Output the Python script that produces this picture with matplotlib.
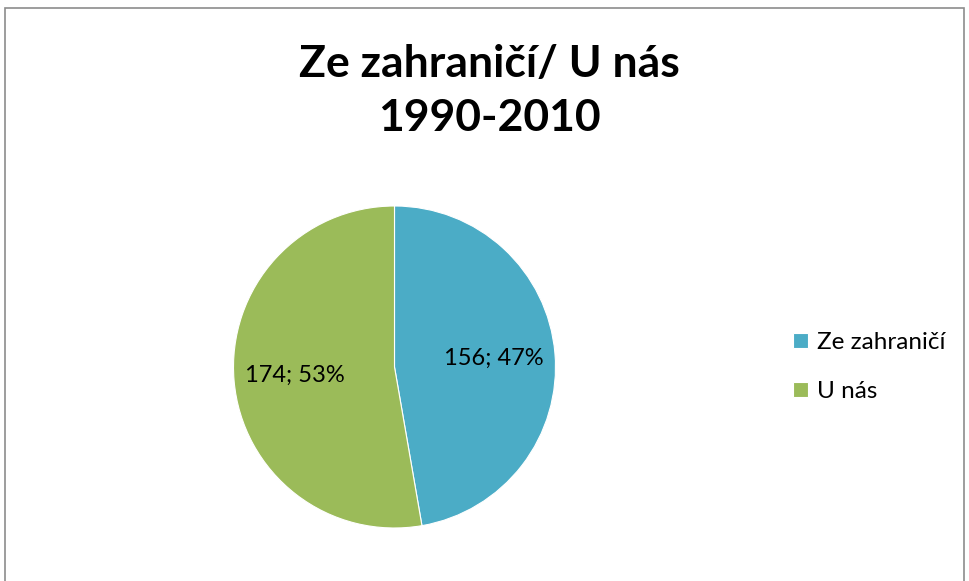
import matplotlib
matplotlib.use("Agg")
import matplotlib.pyplot as plt
from matplotlib.patches import Rectangle

categories = ["Ze zahraničí", "U nás"]
values = [156, 174]
colors = ["#4BACC6", "#9BBB59"]
title = "Ze zahraničí/ U nás\n1990-2010"

plt.rcParams['font.family'] = ['Lato', 'DejaVu Sans']

W, H = 970, 581
fig = plt.figure(figsize=(W/100, H/100), dpi=100)

# outer border
fig.patches.append(Rectangle((5/W, -0.01), (964-5)/W, (H-8)/H + 0.01, transform=fig.transFigure,
                             fill=False, edgecolor="#8c8c8c", linewidth=1.2))

cx, cy, r = 394.5, 367, 161
ax = fig.add_axes([(cx-r)/W, (H-cy-r)/H, 2*r/W, 2*r/H])
total = sum(values)

def fmt(p):
    v = round(p*total/100)
    return f"{v}; {round(p)}%"

wedges, texts, autotexts = ax.pie(values, colors=colors, startangle=90, counterclock=False,
                                  autopct=fmt, pctdistance=0.62,
                                  wedgeprops=dict(edgecolor="white", linewidth=0.8),
                                  textprops=dict(fontsize=17, color="black"))
ax.set_xlim(-1, 1)
ax.set_ylim(-1, 1)
ax.set_aspect("equal")

fig.text(489/W, 1 - 91/H, title, ha="center", va="center", fontsize=32, fontweight="bold",
         linespacing=1.4)

fig.legend(wedges, categories, loc="center left", bbox_to_anchor=(793/W, 1 - 367/H),
           frameon=False, fontsize=17.5, handlelength=0.6, handleheight=0.6,
           handletextpad=0.4, labelspacing=1.15, borderaxespad=0, borderpad=0)

fig.savefig("out.png", dpi=100)
